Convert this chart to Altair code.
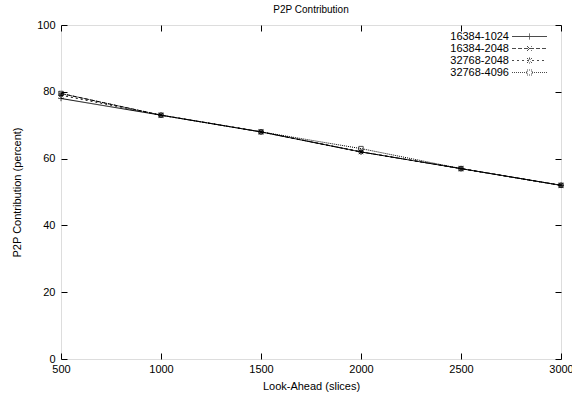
import altair as alt
import pandas as pd

# ---- data ----
lookahead = [500, 1000, 1500, 2000, 2500, 3000]
series_names = ["16384-1024", "16384-2048", "32768-2048", "32768-4096"]
s_16384_1024 = [78.0, 73.0, 68.0, 62.0, 57.0, 52.0]
s_16384_2048 = [79.5, 73.0, 68.0, 62.0, 57.0, 52.0]
s_32768_2048 = [79.0, 73.0, 68.0, 62.0, 57.0, 52.0]
s_32768_4096 = [79.5, 73.0, 68.0, 63.0, 57.0, 52.0]
y_ticks = [0, 20, 40, 60, 80, 100]

rows = []
for name, vals in zip(series_names, [s_16384_1024, s_16384_2048, s_32768_2048, s_32768_4096]):
    for x, v in zip(lookahead, vals):
        rows.append({"lookahead": x, "contribution": v, "series": name})
df = pd.DataFrame(rows)

# ---- styles ----
FONT = "Liberation Sans"
dash_range = [[1, 0], [4, 2], [2, 3], [1, 1]]
marker_paths = [
    "M-1,0H1M0,-1V1",                                   # plus
    "M-0.8,-0.8L0.8,0.8M-0.8,0.8L0.8,-0.8",             # cross
    "M-1,0H1M0,-1V1M-0.8,-0.8L0.8,0.8M-0.8,0.8L0.8,-0.8",  # star
    "M-0.8,-0.8H0.8V0.8H-0.8Z",                         # box
]
legend_paths = [
    "M-3.5,0H3.5M0,-0.6V0.6",
    "M-3.5,0H3.5M-0.5,-0.5L0.5,0.5M-0.5,0.5L0.5,-0.5",
    "M-3.5,0H3.5M0,-0.6V0.6M-0.5,-0.5L0.5,0.5M-0.5,0.5L0.5,-0.5",
    "M-3.5,0H-0.5M0.5,0H3.5M-0.5,-0.5H0.5V0.5H-0.5Z",
]

xscale = alt.Scale(domain=[500, 3000], nice=False, zero=False)
yscale = alt.Scale(domain=[0, 100], nice=False)

axis_common = dict(
    offset=-6, tickSize=6, tickColor="black", tickWidth=1, domain=False, grid=False,
    labelFont=FONT, labelFontSize=11, labelColor="black", labelFlush=False, format="d",
    titleFont=FONT, titleFontSize=11, titleFontWeight="normal", titleColor="black",
)

lines = alt.Chart(df).mark_line(color="black", strokeWidth=1).encode(
    x=alt.X("lookahead:Q", scale=xscale,
            axis=alt.Axis(title="Look-Ahead (slices)", values=lookahead, orient="bottom",
                          labelPadding=4, titlePadding=6, **axis_common)),
    y=alt.Y("contribution:Q", scale=yscale,
            axis=alt.Axis(title="P2P Contribution (percent)", values=y_ticks, orient="left",
                          labelPadding=6, titlePadding=14, **axis_common)),
    strokeDash=alt.StrokeDash("series:N", scale=alt.Scale(domain=series_names, range=dash_range),
                              legend=None),
)

points = alt.Chart(df).mark_point(color="black", filled=False, strokeWidth=1, size=30).encode(
    x=alt.X("lookahead:Q", scale=xscale,
            axis=alt.Axis(title=None, values=lookahead, orient="top", labels=False, **axis_common)),
    y=alt.Y("contribution:Q", scale=yscale,
            axis=alt.Axis(title=None, values=y_ticks, orient="right", labels=False, **axis_common)),
    shape=alt.Shape("series:N", scale=alt.Scale(domain=series_names, range=marker_paths), legend=None),
)

legend_cfg = dict(
    orient="none", legendX=463, legendY=6, title=None, padding=0,
    labelAlign="right", labelOffset={"expr": "-26"}, labelFont=FONT, labelFontSize=11,
    labelColor="black",
    symbolSize=100, symbolStrokeWidth=1, symbolStrokeColor="black", symbolFillColor="white",
    rowPadding=0,
)

legend_layer = alt.Chart(df).transform_filter("false").mark_point(
    color="black", filled=False, strokeWidth=1
).encode(
    shape=alt.Shape("series:N", scale=alt.Scale(domain=series_names, range=legend_paths),
                    legend=alt.Legend(**legend_cfg)),
    strokeDash=alt.StrokeDash("series:N", scale=alt.Scale(domain=series_names, range=dash_range),
                              legend=alt.Legend(**legend_cfg)),
)

chart = alt.layer(lines, points, legend_layer).resolve_axis(
    x="independent", y="independent"
).resolve_scale(
    shape="independent", strokeDash="independent"
).properties(
    width=500, height=334,
    title=alt.TitleParams("P2P Contribution", font=FONT, fontSize=10, fontWeight="normal",
                          color="black", anchor="middle", offset=4),
    autosize=alt.AutoSizeParams(type="none"),
    padding={"left": 61, "top": 25, "right": 11, "bottom": 41},
).configure_view(
    stroke="black", strokeWidth=1
).configure(background="white")

chart.save("out.html", embed_options={"renderer": "svg", "actions": False})
